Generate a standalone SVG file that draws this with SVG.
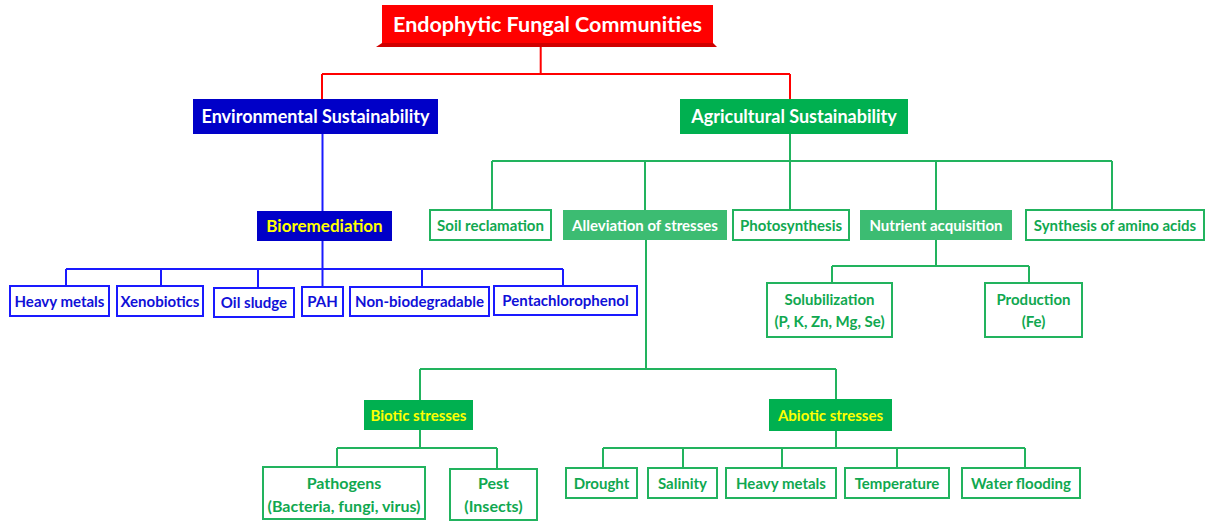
<svg xmlns="http://www.w3.org/2000/svg" width="1209" height="521" viewBox="0 0 1209 521">
<style>
text{font-family:Lato,"Open Sans","Liberation Sans",sans-serif;font-weight:bold;text-anchor:middle}
.t{font-size:21.5px;fill:#fff}
.h{font-size:18px;fill:#fff}
.s{font-size:15px}
.m{font-size:16px}
.bl{fill:#fff;stroke:#1a1aff;stroke-width:2}
.blt{fill:#1010d8}
.bf{fill:#0000c8}
.gl{fill:#fff;stroke:#22b35e;stroke-width:2}
.glt{fill:#10a850}
.gf{fill:#00b050}
.gm{fill:#3cbc72}
.y{fill:#ffff00}
.w{fill:#fff}
.cr{stroke:#ff0000;stroke-width:2;fill:none}
.cb{stroke:#1a1aff;stroke-width:2;fill:none}
.cg{stroke:#22b35e;stroke-width:2;fill:none}
</style>
<g id="connectors">
<path class="cr" d="M540.7,43V74M322,74H790M322,74V99M790,74V99"/>
<path class="cb" d="M322.5,134V211M322.5,241V269M66,269H563M66,269V286M161,269V286M258,269V288M322.5,269V286M422,269V286M563,269V286"/>
<path class="cg" d="M790,134V161M492,161H1112M492,161V210M645,161V210M790,161V210M936,161V210M1112,161V210"/>
<path class="cg" d="M936,240V266M832,266H1029M832,266V283M1029,266V283"/>
<path class="cg" d="M646,240V369M420,369H836M420,369V400M836,369V399"/>
<path class="cg" d="M420,430V448M337,448H497M337,448V467M497,448V469"/>
<path class="cg" d="M836,431V448M603,448H1025M603,448V468M683,448V468M782,448V468M897,448V468M1025,448V468"/>
</g>
<g id="title">
<polygon points="376,47 717,47 713,43 382,43" fill="#d00000"/>
<rect x="382" y="5" width="331" height="38" fill="#ff0000"/>
<text class="t" x="547.5" y="31.5">Endophytic Fungal Communities</text>
</g>
<g id="env">
<rect class="bf" x="193" y="99" width="245" height="35"/>
<text class="h" x="315.5" y="123">Environmental Sustainability</text>
</g>
<g id="agri">
<rect class="gf" x="680" y="99" width="228" height="35"/>
<text class="h" x="794" y="123">Agricultural Sustainability</text>
</g>
<g id="bioremediation">
<rect class="bf" x="257" y="211" width="135" height="30"/>
<text class="y" x="324.5" y="232" style="font-size:17px">Bioremediation</text>
</g>
<g id="heavy-metals-env"><rect class="bl" x="10" y="286" width="99" height="30"/><text class="s blt" x="59.5" y="306.5">Heavy metals</text></g>
<g id="xenobiotics"><rect class="bl" x="117" y="286" width="86" height="30"/><text class="s blt" x="160" y="306.5">Xenobiotics</text></g>
<g id="oil-sludge"><rect class="bl" x="214" y="288" width="80" height="29"/><text class="s blt" x="254" y="308">Oil sludge</text></g>
<g id="pah"><rect class="bl" x="302" y="287" width="41" height="29"/><text class="s blt" x="322.5" y="307">PAH</text></g>
<g id="non-biodegradable"><rect class="bl" x="350" y="287" width="139" height="29"/><text class="s blt" x="419.5" y="307">Non-biodegradable</text></g>
<g id="pentachlorophenol"><rect class="bl" x="494" y="286" width="143" height="29"/><text class="s blt" x="565.5" y="306">Pentachlorophenol</text></g>
<g id="soil"><rect class="gl" x="430" y="210" width="121" height="30"/><text class="s glt" x="490.5" y="230.5">Soil reclamation</text></g>
<g id="alleviation"><rect class="gm" x="563" y="210" width="164" height="30"/><text class="s w" x="645" y="230.5">Alleviation of stresses</text></g>
<g id="photosynthesis"><rect class="gl" x="733" y="210" width="116" height="30"/><text class="s glt" x="791" y="230.5">Photosynthesis</text></g>
<g id="nutrient"><rect class="gm" x="860" y="210" width="152" height="30"/><text class="s w" x="936" y="230.5">Nutrient acquisition</text></g>
<g id="synthesis"><rect class="gl" x="1026" y="210" width="178" height="30"/><text class="s glt" x="1115" y="230.5">Synthesis of amino acids</text></g>
<g id="solubilization"><rect class="gl" x="767" y="283" width="125" height="54"/><text class="s glt" x="829.5" y="305">Solubilization</text><text class="s glt" x="829.5" y="327">(P, K, Zn, Mg, Se)</text></g>
<g id="production"><rect class="gl" x="985" y="283" width="97" height="54"/><text class="s glt" x="1033.5" y="305">Production</text><text class="s glt" x="1033.5" y="327">(Fe)</text></g>
<g id="biotic"><rect class="gf" x="364" y="400" width="109" height="30"/><text class="s y" x="418.5" y="420.5">Biotic stresses</text></g>
<g id="abiotic"><rect class="gf" x="769" y="399" width="123" height="32"/><text class="s y" x="830.5" y="420.5">Abiotic stresses</text></g>
<g id="pathogens"><rect class="gl" x="263" y="467" width="162" height="52"/><text class="m glt" x="344" y="488.5">Pathogens</text><text class="m glt" x="344" y="511.5">(Bacteria, fungi, virus)</text></g>
<g id="pest"><rect class="gl" x="450" y="469" width="87" height="51"/><text class="m glt" x="493.5" y="488.5">Pest</text><text class="m glt" x="493.5" y="511.5">(Insects)</text></g>
<g id="drought"><rect class="gl" x="566" y="468" width="71" height="30"/><text class="s glt" x="601.5" y="488.5">Drought</text></g>
<g id="salinity"><rect class="gl" x="648" y="468" width="69" height="30"/><text class="s glt" x="682.5" y="488.5">Salinity</text></g>
<g id="heavy-metals-abiotic"><rect class="gl" x="726" y="468" width="110" height="30"/><text class="s glt" x="781" y="488.5">Heavy metals</text></g>
<g id="temperature"><rect class="gl" x="845" y="468" width="104" height="30"/><text class="s glt" x="897" y="488.5">Temperature</text></g>
<g id="water-flooding"><rect class="gl" x="962" y="468" width="118" height="30"/><text class="s glt" x="1021" y="488.5">Water flooding</text></g>
</svg>
